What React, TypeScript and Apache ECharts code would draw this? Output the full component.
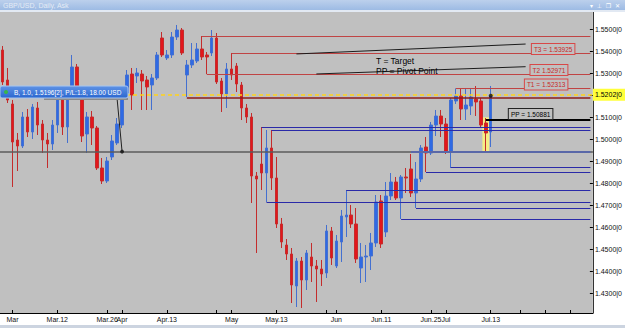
import React, { useEffect, useRef } from 'react';
import * as echarts from 'echarts';

// ---- data ----
const slotCount = 119;
// [open, close, low, high]
const ohlc = [
  [1.54059, 1.52605, 1.52468, 1.54241], [1.52696, 1.51787, 1.5165, 1.53241], [1.51605, 1.49877, 1.47832, 1.51787],
  [1.49968, 1.49696, 1.48559, 1.50287], [1.49696, 1.51014, 1.49605, 1.51241], [1.51014, 1.50332, 1.50105, 1.51377],
  [1.50332, 1.51468, 1.50014, 1.51605], [1.51423, 1.5065, 1.50196, 1.51696], [1.50696, 1.49968, 1.49377, 1.50877],
  [1.49968, 1.49787, 1.48696, 1.50287], [1.49787, 1.5065, 1.49514, 1.50877], [1.5065, 1.51968, 1.50287, 1.5215],
  [1.52059, 1.50559, 1.50196, 1.52241], [1.50559, 1.52014, 1.49832, 1.52332], [1.51968, 1.53287, 1.51832, 1.53832],
  [1.53287, 1.51968, 1.51832, 1.53423], [1.51968, 1.5015, 1.49877, 1.52105], [1.50241, 1.51014, 1.49377, 1.51241],
  [1.51014, 1.50514, 1.49741, 1.51287], [1.50514, 1.48696, 1.48605, 1.50605], [1.48696, 1.48105, 1.47968, 1.4915],
  [1.48105, 1.49014, 1.48014, 1.49196], [1.49196, 1.49923, 1.49059, 1.50196], [1.49832, 1.50696, 1.49741, 1.50968],
  [1.5065, 1.52105, 1.50514, 1.52241], [1.52105, 1.52923, 1.52014, 1.5315], [1.52968, 1.52014, 1.51332, 1.53241],
  [1.52877, 1.53014, 1.52559, 1.53241], [1.52968, 1.5265, 1.51332, 1.5315], [1.52696, 1.52377, 1.51332, 1.52877],
  [1.52468, 1.52787, 1.51332, 1.52968], [1.52787, 1.53832, 1.52696, 1.53968], [1.54605, 1.53832, 1.53741, 1.54877],
  [1.53696, 1.53832, 1.53605, 1.54059], [1.53832, 1.5465, 1.53696, 1.54877], [1.5465, 1.54968, 1.54514, 1.55196],
  [1.54968, 1.53923, 1.53832, 1.55059], [1.52923, 1.53377, 1.51923, 1.53605], [1.53377, 1.53605, 1.53241, 1.54377],
  [1.53559, 1.54105, 1.53468, 1.54377], [1.54105, 1.53741, 1.53605, 1.54695], [1.53832, 1.53741, 1.52968, 1.53968],
  [1.53923, 1.54605, 1.53787, 1.54968], [1.54605, 1.52605, 1.52514, 1.54832], [1.5265, 1.52059, 1.51241, 1.52787],
  [1.52059, 1.53196, 1.51423, 1.53468], [1.53196, 1.52923, 1.52696, 1.53923], [1.53332, 1.52514, 1.5215, 1.53468],
  [1.52468, 1.51423, 1.50877, 1.52605], [1.51423, 1.51014, 1.50741, 1.51605], [1.51014, 1.48332, 1.47105, 1.51196],
  [1.48332, 1.48196, 1.44832, 1.48514], [1.48877, 1.48468, 1.47696, 1.50559], [1.48468, 1.49605, 1.4715, 1.50423],
  [1.49605, 1.48241, 1.47696, 1.50423], [1.48241, 1.4615, 1.45968, 1.49196], [1.4615, 1.45332, 1.45059, 1.46423],
  [1.45196, 1.44787, 1.44514, 1.45468], [1.44787, 1.43377, 1.42559, 1.45059], [1.43332, 1.44468, 1.42377, 1.44605],
  [1.44468, 1.43605, 1.42332, 1.4465], [1.43605, 1.44832, 1.4315, 1.44968], [1.4465, 1.44241, 1.43514, 1.45287],
  [1.44241, 1.44105, 1.42605, 1.44514], [1.44105, 1.43877, 1.43332, 1.44514], [1.43923, 1.45832, 1.43696, 1.46105],
  [1.45832, 1.44605, 1.44287, 1.46014], [1.44241, 1.45377, 1.4415, 1.4565], [1.45332, 1.46514, 1.44423, 1.46787],
  [1.46468, 1.46559, 1.45559, 1.47696], [1.46559, 1.4615, 1.45968, 1.47014], [1.4615, 1.44559, 1.44377, 1.46877],
  [1.4415, 1.4465, 1.43468, 1.45287], [1.4465, 1.44696, 1.43514, 1.45196], [1.44696, 1.45287, 1.44059, 1.45741],
  [1.45287, 1.4715, 1.45105, 1.47468], [1.47196, 1.45241, 1.45059, 1.47468], [1.45787, 1.47423, 1.45559, 1.48059],
  [1.47423, 1.48059, 1.47241, 1.48468], [1.48059, 1.47332, 1.47241, 1.48287], [1.47332, 1.48287, 1.46377, 1.48377],
  [1.48287, 1.48241, 1.47559, 1.48696], [1.4865, 1.47559, 1.47377, 1.49332], [1.47559, 1.48196, 1.46877, 1.48968],
  [1.48196, 1.49605, 1.48059, 1.49741], [1.4965, 1.49377, 1.48514, 1.50105], [1.49377, 1.5065, 1.49287, 1.50787],
  [1.5065, 1.51059, 1.5015, 1.51332], [1.51059, 1.50696, 1.50105, 1.51332], [1.50696, 1.49423, 1.49332, 1.50968],
  [1.49423, 1.51787, 1.48696, 1.51877], [1.51741, 1.51968, 1.51605, 1.52313], [1.51968, 1.51377, 1.50877, 1.52287],
  [1.51377, 1.51559, 1.50877, 1.52332], [1.51514, 1.51923, 1.51105, 1.52332], [1.51832, 1.51696, 1.51059, 1.52423],
  [1.51741, 1.5065, 1.50514, 1.51877], [1.50741, 1.50287, 1.49468, 1.50968], [1.50332, 1.51968, 1.4965, 1.52423],
];

const xLabelIdx = [2, 11, 21, 24, 33, 46, 55, 67, 76, 86, 89, 98];
const xLabelText = ['Mar', 'Mar.12', 'Mar.26', 'Apr', 'Apr.13', 'May', 'May.13', 'Jun', 'Jun.11', 'Jun.25', 'Jul', 'Jul.13'];
const xExtraTickIdx = [43, 65, 104, 109, 114];

const yTickValues = [1.43, 1.44, 1.45, 1.46, 1.47, 1.48, 1.49, 1.5, 1.51, 1.52, 1.53, 1.54, 1.55];
const yMin = 1.421045;
const yMax = 1.557864;

const resistanceLevels = [1.54695, 1.53925, 1.52971, 1.52313];
const resistanceStart = [40, 46, 41, 91];
const targetText = ['', 'T3 = 1.53925', 'T2 1.52971', 'T1 = 1.52313'];

const supportLevels = [1.50545, 1.50409, 1.48709, 1.48514, 1.47695, 1.47127, 1.46864, 1.46377];
const supportStart = [52, 54, 90, 85, 69, 53, 83, 80];
const strongSupport = { level: 1.49444, start: 82 };
const baseLevel = 1.4942;
const bidLevel = 1.5202;
const bidText = '1.5202|0';
const stopLevel = { level: 1.5189, start: 37 };
const pivot = { level: 1.50881, start: 97, text: 'PP = 1.50881' };
const trendFrom = [[59, 1.5388], [63, 1.5297]];
const trendTo = [[105, 1.5433], [105, 1.533]];
const arrowFrom = [23, 1.5185];
const arrowTo = [24, 1.4944];
const orderDots = [[24, 1.4944], [98, 1.5198]];
const highlightIdx = 97;
const lastIdx = slotCount - 1;

const titleText = 'GBP/USD, Daily, Ask';
const orderText = 'B, 1.0, 1.5196[2], P/L:1.8, 18.00 USD';
const legendText = ['T = Target', 'PP = Pivot Point'];

const FONT = '"Liberation Sans", Arial, sans-serif';

export default function App() {
  const ref = useRef<HTMLDivElement>(null);
  useEffect(() => {
    if (!ref.current) return;
    const chart = echarts.init(ref.current, undefined, { renderer: 'svg' });
    const categories = Array.from({ length: slotCount }, (_, i) => 'd' + i);
    const labelMap = new Map<number, string>();
    xLabelIdx.forEach((idx, k) => labelMap.set(idx, xLabelText[k]));
    const tickSet = new Set<number>([...xLabelIdx, ...xExtraTickIdx]);

    const seg = (from: number[], to: number[], lineStyle: any, label?: any) => [
      { coord: from, lineStyle, label: label || { show: false } },
      { coord: to },
    ];

    const boxLabel = (text: string, dx: number, dy: number, border: string, color: string) => ({
      show: true, position: 'insideEndTop', formatter: text, distance: [dx, dy],
      backgroundColor: '#c0c0c0', borderColor: border, borderWidth: 1, color,
      fontSize: 6.5, fontFamily: FONT, padding: [2, 2, 1, 2],
    });

    const markData: any[] = [];
    markData.push({ yAxis: baseLevel, lineStyle: { color: '#5c5c5c', width: 1.5, type: 'solid' }, label: { show: false } });
    markData.push(seg([stopLevel.start, stopLevel.level], [lastIdx, stopLevel.level], { color: '#8c1c1c', width: 1.5, type: 'solid' }));
    markData.push({
      yAxis: bidLevel,
      lineStyle: { color: '#ffd21a', width: 1.5, type: [4, 3] },
      label: {
        show: true, position: 'end', formatter: bidText, distance: 0,
        backgroundColor: '#ffff3a', color: '#000', fontSize: 7, fontFamily: FONT, padding: [3, 3, 2, 2],
      },
    });
    resistanceLevels.forEach((lv, k) => {
      const dx = [0, 16, 23, 23][k];
      markData.push(seg([resistanceStart[k], lv], [lastIdx, lv], { color: '#c04444', width: 1, type: 'solid' },
        targetText[k] ? boxLabel(targetText[k], dx, -1, '#d84848', '#c82828') : undefined));
    });
    supportLevels.forEach((lv, k) => {
      markData.push(seg([supportStart[k], lv], [lastIdx, lv], { color: '#2a2aa8', width: 1, type: 'solid' }));
    });
    markData.push(seg([strongSupport.start, strongSupport.level], [lastIdx, strongSupport.level], { color: '#5a68a8', width: 2, type: 'solid' }));
    markData.push(seg([pivot.start, pivot.level], [lastIdx, pivot.level], { color: '#000', width: 2, type: 'solid' },
      boxLabel(pivot.text, 38, 1, '#222', '#000')));
    trendFrom.forEach((p, k) => {
      markData.push(seg(p, trendTo[k], { color: '#1c1c1c', width: 1, type: 'solid' }));
    });
    markData.push(seg(arrowFrom, arrowTo, { color: '#222', width: 1, type: 'solid' }));

    const hl = ohlc[highlightIdx];

    chart.setOption({
      animation: false,
      backgroundColor: '#ffffff',
      grid: { left: -3.6, right: 28, top: 12, bottom: 15, show: true, backgroundColor: '#c0c0c0', borderWidth: 0 },
      xAxis: {
        type: 'category', data: categories, boundaryGap: true,
        axisLine: { show: true, lineStyle: { color: '#000', width: 1 } },
        axisTick: { show: true, inside: true, length: 3, alignWithLabel: true, interval: (i: number) => tickSet.has(i), lineStyle: { color: '#000' } },
        axisLabel: {
          interval: (i: number) => labelMap.has(i), formatter: (_v: string, i: number) => labelMap.get(i) || '',
          fontSize: 7, color: '#111', margin: 3, fontFamily: FONT,
        },
        splitLine: { show: false },
      },
      yAxis: {
        type: 'value', position: 'right', min: yMin, max: yMax, scale: true,
        axisLine: { show: true, lineStyle: { color: '#333', width: 1 } },
        axisTick: { show: true, inside: true, length: 3, customValues: yTickValues, lineStyle: { color: '#000' } },
        axisLabel: {
          customValues: yTickValues, formatter: (v: number) => v.toFixed(4) + '|0',
          fontSize: 7, color: '#111', margin: 2, fontFamily: FONT,
        },
        splitLine: { show: false },
      },
      series: [
        {
          type: 'custom', z: 1, silent: true,
          data: [[highlightIdx, hl[2] - 0.0003, hl[3] + 0.0003]],
          renderItem: (_p: any, api: any) => {
            const top = api.coord([api.value(0), api.value(2)]);
            const bot = api.coord([api.value(0), api.value(1)]);
            const w = api.size([1, 0])[0] * 1.35;
            return { type: 'rect', shape: { x: top[0] - w / 2, y: top[1], width: w, height: bot[1] - top[1] }, style: { fill: '#f4ee84' } };
          },
        },
        {
          type: 'candlestick', data: ohlc, barWidth: 3, clip: true, z: 2,
          itemStyle: { color: '#2f6ae4', color0: '#e3161c', borderColor: '#4470d0', borderColor0: '#c42c2c', borderWidth: 1 },
          markLine: { symbol: ['none', 'none'], precision: 6, silent: true, label: { show: false }, emphasis: { disabled: true }, data: markData },
        },
        {
          type: 'scatter', data: orderDots, symbolSize: 4, z: 5, silent: true,
          itemStyle: { color: '#111' },
        },
      ],
      graphic: [
        { type: 'rect', z: 50, shape: { x: 0, y: 0, width: 625, height: 10 },
          style: { fill: new echarts.graphic.LinearGradient(0, 0, 0, 1, [{ offset: 0, color: '#bcd0ec' }, { offset: 1, color: '#9dbbe4' }]) } },
        { type: 'rect', z: 50, shape: { x: 0, y: 10, width: 625, height: 2 }, style: { fill: '#e2e9f3' } },
        { type: 'text', z: 51, x: 3, y: 5, style: { text: titleText, fill: '#e4ebf5', font: '7px ' + FONT, verticalAlign: 'middle' } },
        { type: 'text', z: 51, x: 590, y: 5, style: { text: '▾  ⊥  ❐  ✕', fill: '#ffffff', font: '6px "DejaVu Sans", sans-serif', verticalAlign: 'middle' } },
        { type: 'rect', z: 50, shape: { x: 0, y: 325, width: 625, height: 3 }, style: { fill: '#ccd4e0' } },
        { type: 'rect', z: 60, shape: { x: 44, y: 98, width: 84, height: 2 }, style: { fill: '#8a8a8a' } },
        { type: 'rect', z: 60, shape: { x: 0, y: 86, width: 128, height: 12, r: 2 },
          style: { fill: new echarts.graphic.LinearGradient(0, 0, 0, 1, [{ offset: 0, color: '#5f93e6' }, { offset: 1, color: '#2a66cf' }]), stroke: '#a9c6ee', lineWidth: 1 } },
        { type: 'circle', z: 61, shape: { cx: 6, cy: 92, r: 2 }, style: { fill: '#39b54a' } },
        { type: 'text', z: 61, x: 14, y: 92, style: { text: orderText, fill: '#ffffff', font: '6.5px ' + FONT, verticalAlign: 'middle' } },
        { type: 'text', z: 61, x: 376, y: 61, style: { text: legendText[0], fill: '#000', font: '8.5px ' + FONT, verticalAlign: 'middle' } },
        { type: 'text', z: 61, x: 376, y: 71, style: { text: legendText[1], fill: '#000', font: '8.5px ' + FONT, verticalAlign: 'middle' } },
      ],
    });
    return () => chart.dispose();
  }, []);
  return <div ref={ref} style={{ position: 'fixed', left: 0, top: 0, width: 625, height: 328 }} />;
}
